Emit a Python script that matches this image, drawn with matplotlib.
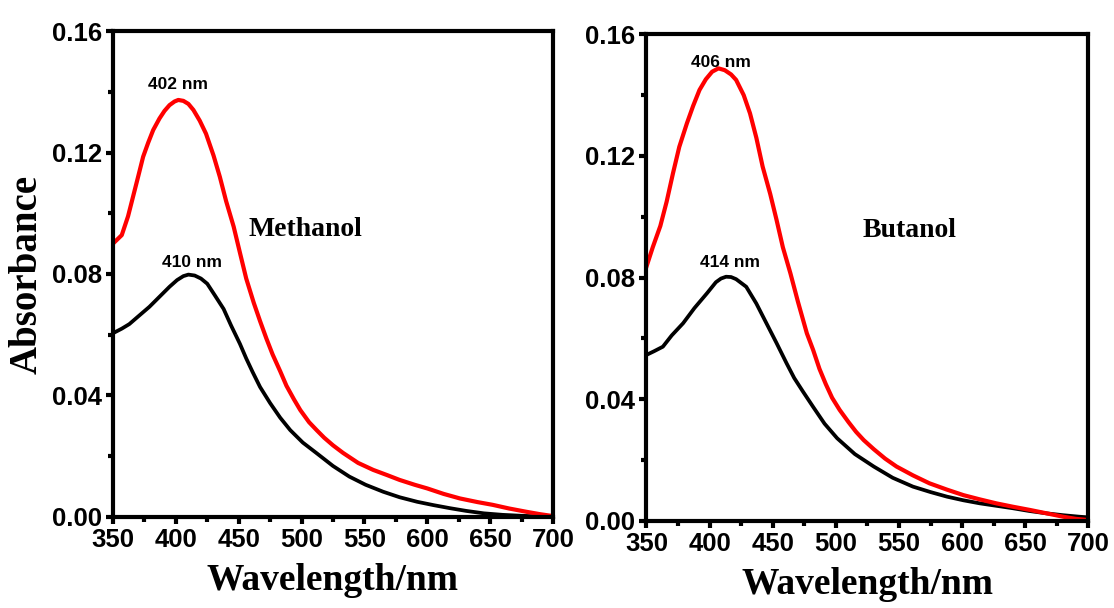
import numpy as np
import matplotlib
matplotlib.use("Agg")
import matplotlib.pyplot as plt
from matplotlib.ticker import MultipleLocator, FormatStrFormatter

# UV-vis spectra, wavelength (nm) vs absorbance
meoh_red_wl = [350, 357, 362, 366, 370, 374, 378, 382, 387, 391, 395, 399, 402, 406, 410,
               414, 419, 424, 430, 435, 440, 446, 451, 456, 462, 467, 472, 477, 483, 488,
               494, 499, 506, 512, 518, 525, 533, 545, 557, 568, 578, 590, 600, 613, 626,
               640, 652, 665, 679, 690, 700]
meoh_red_abs = [0.0900, 0.0928, 0.0990, 0.1055, 0.1120, 0.1186, 0.1232, 0.1274, 0.1312,
                0.1337, 0.1356, 0.1368, 0.1373, 0.1370, 0.1360, 0.1340, 0.1305, 0.1262,
                0.1190, 0.1120, 0.1040, 0.0956, 0.0870, 0.0785, 0.0705, 0.0645, 0.0588,
                0.0535, 0.0480, 0.0432, 0.0387, 0.0352, 0.0312, 0.0286, 0.0261, 0.0236,
                0.0211, 0.0178, 0.0155, 0.0138, 0.0122, 0.0106, 0.0094, 0.0076, 0.0061,
                0.0049, 0.0040, 0.0028, 0.0017, 0.0009, 0.0003]

meoh_blk_wl = [350, 357, 363, 370, 379, 387, 395, 401, 406, 410, 415, 420, 425, 431, 438,
               444, 451, 456, 461, 467, 475, 483, 491, 501, 512, 525, 538, 551, 565, 578,
               592, 605, 618, 631, 645, 660, 675, 700]
meoh_blk_abs = [0.0605, 0.0620, 0.0635, 0.0660, 0.0692, 0.0725, 0.0758, 0.0780, 0.0793,
                0.0798, 0.0795, 0.0785, 0.0768, 0.0730, 0.0685, 0.0630, 0.0570, 0.0522,
                0.0478, 0.0428, 0.0375, 0.0327, 0.0286, 0.0245, 0.0210, 0.0168, 0.0133,
                0.0106, 0.0083, 0.0065, 0.0050, 0.0039, 0.0029, 0.0020, 0.0012, 0.0007,
                0.0004, 0.0000]

buoh_red_wl = [350, 355, 361, 366, 371, 376, 382, 387, 392, 397, 402, 407, 412, 417, 421,
               427, 432, 437, 442, 448, 453, 458, 464, 470, 477, 482, 487, 492, 497, 503,
               510, 516, 522, 530, 539, 548, 561, 574, 588, 601, 614, 627, 640, 654, 667,
               680, 690, 700]
buoh_red_abs = [0.0836, 0.0900, 0.0970, 0.1050, 0.1143, 0.1230, 0.1307, 0.1365, 0.1417,
                0.1452, 0.1477, 0.1488, 0.1482, 0.1468, 0.1450, 0.1400, 0.1340, 0.1260,
                0.1165, 0.1075, 0.0990, 0.0900, 0.0814, 0.0720, 0.0617, 0.0562, 0.0500,
                0.0450, 0.0405, 0.0365, 0.0325, 0.0293, 0.0266, 0.0236, 0.0205, 0.0179,
                0.0150, 0.0124, 0.0103, 0.0085, 0.0071, 0.0058, 0.0047, 0.0036, 0.0025,
                0.0014, 0.0007, 0.0003]

buoh_blk_wl = [350, 356, 363, 370, 379, 388, 398, 405, 409, 413, 417, 421, 429, 437, 445,
               453, 461, 467, 474, 482, 491, 501, 515, 530, 545, 561, 575, 588, 601, 614,
               627, 640, 653, 667, 680, 693, 700]
buoh_blk_abs = [0.0546, 0.0558, 0.0573, 0.0610, 0.0650, 0.0700, 0.0749, 0.0785, 0.0797,
                0.0803, 0.0802, 0.0795, 0.0770, 0.0715, 0.0650, 0.0585, 0.0518, 0.0470,
                0.0425, 0.0375, 0.0320, 0.0272, 0.0220, 0.0179, 0.0142, 0.0113, 0.0095,
                0.0080, 0.0068, 0.0058, 0.0050, 0.0042, 0.0033, 0.0025, 0.0019, 0.0014,
                0.0012]

panels = [
    dict(red=(meoh_red_wl, meoh_red_abs), blk=(meoh_blk_wl, meoh_blk_abs),
         solvent="Methanol", solvent_xy=(502.7, 0.0925),
         peaks=[("402 nm", 401.7, 0.1408), ("410 nm", 412.8, 0.0824)]),
    dict(red=(buoh_red_wl, buoh_red_abs), blk=(buoh_blk_wl, buoh_blk_abs),
         solvent="Butanol", solvent_xy=(558.6, 0.0935),
         peaks=[("406 nm", 409.0, 0.1493), ("414 nm", 416.0, 0.0836)]),
]

SANS = "Liberation Sans"
SERIF = "Liberation Serif"

fig = plt.figure(figsize=(11.14, 6.08), dpi=100)
rects = [[0.1014, 0.1497, 0.3950, 0.7993], [0.5803, 0.1431, 0.3968, 0.8005]]

for i, (p, r) in enumerate(zip(panels, rects)):
    ax = fig.add_axes(r)
    ax.plot(*p["blk"], color="black", lw=2.7, solid_joinstyle="round")
    ax.plot(*p["red"], color="#ff0000", lw=3.0, solid_joinstyle="round")
    ax.set_xlim(350, 700)
    ax.set_ylim(0, 0.16)
    ax.xaxis.set_major_locator(MultipleLocator(50))
    ax.xaxis.set_minor_locator(MultipleLocator(25))
    ax.yaxis.set_major_locator(MultipleLocator(0.04))
    ax.yaxis.set_minor_locator(MultipleLocator(0.02))
    ax.yaxis.set_major_formatter(FormatStrFormatter("%.2f"))
    for s in ax.spines.values():
        s.set_linewidth(3.0)
    ax.tick_params(which="both", direction="out", top=False, right=False, width=3.0)
    ax.tick_params(which="major", length=5, pad=3)
    ax.tick_params(which="minor", length=3.5)
    for lab in ax.get_xticklabels() + ax.get_yticklabels():
        lab.set_fontfamily(SANS)
        lab.set_fontweight("bold")
        lab.set_fontsize(18.5)

    ax.set_xlabel("Wavelength/nm", fontfamily=SERIF, fontweight="bold", fontsize=27,
                  labelpad=8)
    if i == 0:
        ax.set_ylabel("Absorbance", fontfamily=SERIF, fontweight="bold", fontsize=28)
        ax.yaxis.set_label_coords(-0.152, 0.5)

    sx, sy = p["solvent_xy"]
    ax.text(sx, sy, p["solvent"], fontfamily=SERIF, fontweight="bold", fontsize=20,
            ha="center", va="baseline")
    for txt, px, py in p["peaks"]:
        ax.text(px, py, txt, fontfamily=SANS, fontweight="bold", fontsize=12.5,
                ha="center", va="baseline")

fig.savefig("out.png", dpi=100, facecolor="white")
